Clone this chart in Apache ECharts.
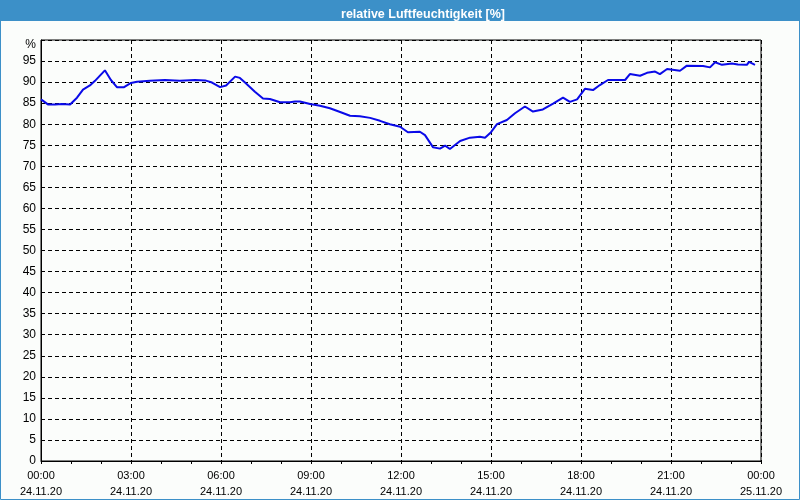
<!DOCTYPE html>
<html>
<head>
<meta charset="utf-8">
<script src="https://cdn.jsdelivr.net/npm/echarts@6/dist/echarts.min.js"></script>
<style>
html,body{margin:0;padding:0;background:#fbfdfb;}
#main{width:800px;height:500px;}
</style>
</head>
<body>
<div id="main"></div>
<script>
// Time of day in hours (24.11.20 00:00 = 0)
var hours = [0.00,0.23,0.47,0.70,0.97,1.20,1.40,1.63,1.80,2.13,2.33,2.53,2.77,3.00,3.20,3.63,4.13,4.63,5.13,5.47,5.70,5.97,6.17,6.47,6.63,6.80,7.13,7.40,7.63,7.97,8.30,8.47,8.63,8.97,9.30,9.63,9.97,10.30,10.63,10.97,11.30,11.63,11.97,12.23,12.63,12.80,13.07,13.30,13.47,13.63,13.97,14.30,14.63,14.80,15.00,15.20,15.53,15.80,16.13,16.40,16.73,17.07,17.40,17.63,17.87,18.13,18.40,18.63,18.90,19.47,19.63,19.97,20.20,20.47,20.63,20.87,21.30,21.53,22.07,22.30,22.47,22.70,23.03,23.23,23.53,23.60,23.80];
// Relative humidity [%]
var humidity = [85.9,84.7,84.7,84.8,84.7,86.3,88.2,89.2,90.3,92.8,90.5,88.8,88.8,89.8,90.1,90.3,90.5,90.3,90.5,90.4,89.9,88.8,89.2,91.3,91.0,89.9,87.7,86.1,86.0,85.2,85.2,85.4,85.4,84.8,84.4,83.8,82.9,82.0,81.9,81.5,80.8,80.0,79.4,78.1,78.2,77.4,74.5,74.2,74.9,74.1,76.0,76.8,77.0,76.8,78.1,80.0,81.0,82.6,84.2,83.0,83.5,84.9,86.3,85.3,85.9,88.4,88.1,89.3,90.5,90.5,91.9,91.5,92.2,92.5,91.9,93.1,92.7,93.9,93.8,93.5,94.7,94.1,94.4,94.2,94.1,94.8,94.1];
var titleText = 'relative Luftfeuchtigkeit [%]';
var dateLabel = '24.11.20';
var nextDateLabel = '25.11.20';
var unitLabel = '%';

var seriesData = hours.map(function(h, i){ return [h, humidity[i]]; });
function pad(n){ return (n < 10 ? '0' : '') + n; }

var chart = echarts.init(document.getElementById('main'));
chart.setOption({
  animation: false,
  backgroundColor: '#fbfdfb',
  textStyle: { fontFamily: 'Liberation Sans' },
  title: {
    text: titleText,
    left: 418, top: 3, textAlign: 'center',
    textStyle: { color: '#ffffff', fontSize: 12.5, fontWeight: 'bold', fontFamily: 'Liberation Sans' }
  },
  graphic: [
    { type: 'rect', z: -10, silent: true, shape: { x: 0, y: 0, width: 800, height: 21 }, style: { fill: '#3c90c8' } },
    { type: 'rect', z: -10, silent: true, shape: { x: 0.5, y: 0.5, width: 799, height: 499 }, style: { fill: null, stroke: '#3c90c8', lineWidth: 1 } }
  ],
  grid: { left: 41, right: 39, top: 40, bottom: 39, show: true, borderColor: '#000', borderWidth: 1, backgroundColor: 'transparent' },
  xAxis: {
    type: 'value', min: 0, max: 24, interval: 3,
    axisLine: { lineStyle: { color: '#000' } },
    axisTick: { show: true, length: 3, lineStyle: { color: '#000' } },
    minorTick: { show: true, splitNumber: 3, length: 3, lineStyle: { color: '#000' } },
    splitLine: { show: true, lineStyle: { color: '#000', type: [4, 3] } },
    axisLabel: {
      color: '#000', fontSize: 11, lineHeight: 16, margin: 7,
      formatter: function(v){ return v === 24 ? '00:00\n' + nextDateLabel : pad(v) + ':00\n' + dateLabel; }
    }
  },
  yAxis: {
    type: 'value', min: 0, max: 100, interval: 5,
    axisLine: { show: true, lineStyle: { color: '#000' } },
    axisTick: { show: false },
    splitLine: { show: true, lineStyle: { color: '#000', type: [4, 3] } },
    axisLabel: {
      color: '#000', fontSize: 12, margin: 5,
      formatter: function(v){ return v === 100 ? '{u|' + unitLabel + '}' : String(v); },
      rich: { u: { fontSize: 12, color: '#000', padding: [9, 0, 0, 0] } }
    }
  },
  series: [{
    type: 'line', data: seriesData, showSymbol: false, smooth: false,
    lineStyle: { color: '#0a0ae8', width: 2 }
  }]
});
</script>
</body>
</html>
